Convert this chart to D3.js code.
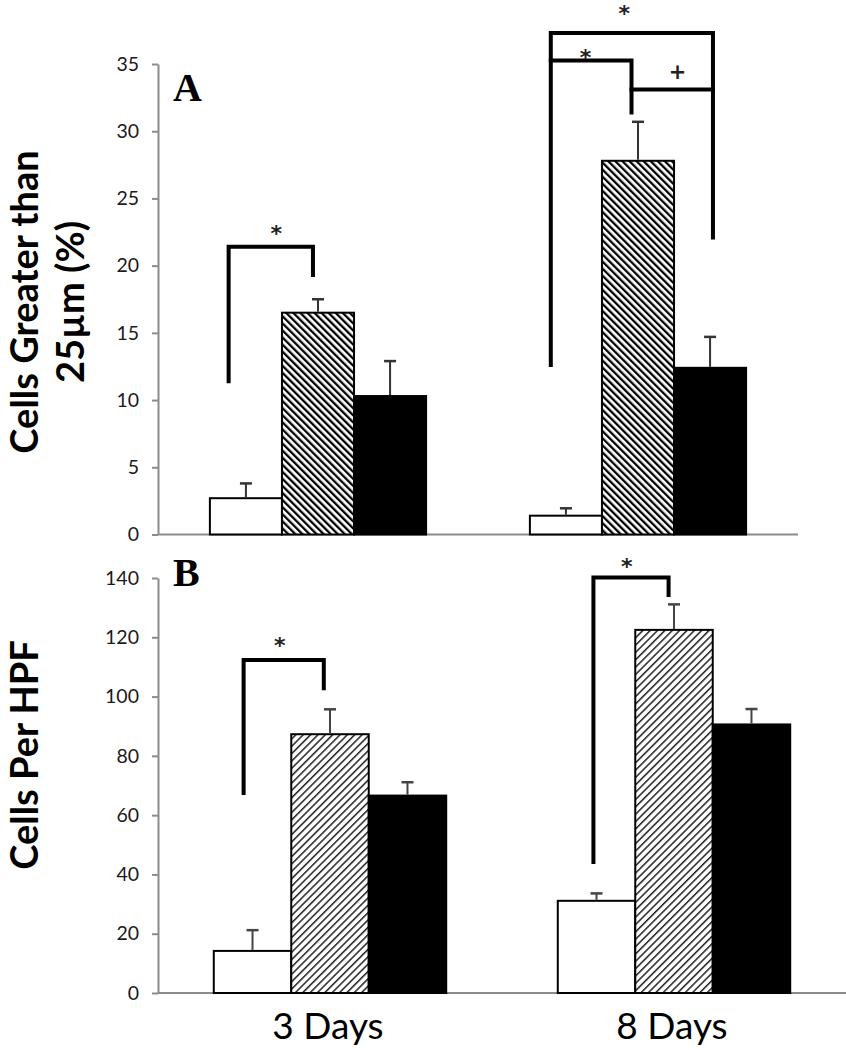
<!DOCTYPE html>
<html>
<head>
<meta charset="utf-8">
<script src="https://cdn.jsdelivr.net/npm/d3@7"></script>
<style>
  html, body { margin: 0; padding: 0; background: #fff; }
  svg { display: block; }
</style>
</head>
<body>
<script>
// ---------- DATA ----------
const categories = ["3 Days", "8 Days"];
const seriesNames = ["Open", "Hatched", "Filled"];

// Panel A: Cells Greater than 25µm (%)
const aOpen    = [2.7, 1.4];
const aHatched = [16.5, 27.8];
const aFilled  = [10.3, 12.4];
const aOpenErr    = [1.1, 0.55];
const aHatchedErr = [1.0, 2.9];
const aFilledErr  = [2.6, 2.3];
const aTicks = [0, 5, 10, 15, 20, 25, 30, 35];

// Panel B: Cells Per HPF
const bOpen    = [14.2, 31.1];
const bHatched = [87.3, 122.5];
const bFilled  = [66.6, 90.6];
const bOpenErr    = [7.0, 2.5];
const bHatchedErr = [8.4, 8.6];
const bFilledErr  = [4.5, 5.2];
const bTicks = [0, 20, 40, 60, 80, 100, 120, 140];

// Significance brackets: points as [category, series, position within bar, value]
const aBrackets = [
  [[0, 0, 0.26, 11.4], [0, 0, 0.26, 21.4], [0, 1, 0.43, 21.4], [0, 1, 0.43, 19.3]],
  [[1, 0, 0.29, 12.6], [1, 0, 0.29, 37.3], [1, 2, 0.54, 37.3], [1, 2, 0.54, 22.1]],
  [[1, 0, 0.29, 35.26], [1, 1, 0.41, 35.26], [1, 1, 0.41, 31.4]],
  [[1, 1, 0.41, 33.1], [1, 2, 0.54, 33.1]]
];
const aMarks = [
  [0, 0, 0.92, 22.8, "*"],
  [1, 1, 0.31, 39.2, "*"],
  [1, 0, 0.77, 35.9, "*"],
  [1, 2, 0.05, 34.5, "+"]
];
const bBrackets = [
  [[0, 0, 0.385, 67.5], [0, 0, 0.385, 112.3], [0, 1, 0.42, 112.3], [0, 1, 0.42, 102.8]],
  [[1, 0, 0.46, 44.2], [1, 0, 0.46, 140.2], [1, 1, 0.43, 140.2], [1, 1, 0.43, 134.3]]
];
const bMarks = [
  [0, 0, 0.85, 119.1, "*"],
  [1, 0, 0.89, 145.9, "*"]
];

// ---------- DRAW ----------
const W = 846, H = 1050;
const svg = d3.select("body").append("svg").attr("width", W).attr("height", H);
const defs = svg.append("defs");

function hatch(id, angle, size, lw, color) {
  const p = defs.append("pattern").attr("id", id)
    .attr("patternUnits", "userSpaceOnUse")
    .attr("width", size).attr("height", size)
    .attr("patternTransform", `rotate(${angle})`);
  p.append("rect").attr("width", size).attr("height", size).attr("fill", "#fff");
  p.append("rect").attr("x", 0).attr("y", 0).attr("width", lw).attr("height", size).attr("fill", color);
}
hatch("hatchA", -45, 5, 2.3, "#000");
hatch("hatchB", 45, 5.2, 1.5, "#222");

const fills = ["#fff", null, "#000"];

function panel(opts) {
  const x0 = d3.scaleBand().domain(categories).range([opts.left, opts.right]).padding(0);
  const x1 = d3.scaleBand().domain(seriesNames).range([0, x0.bandwidth()]).paddingInner(0).paddingOuter(0.72);
  const y = d3.scaleLinear().domain(opts.domain).range([opts.bottom, opts.top]);
  const g = svg.append("g");

  // axis
  const ax = g.append("g").attr("transform", `translate(${opts.left},0)`)
    .call(d3.axisLeft(y).tickValues(opts.ticks).tickSize(6).tickSizeOuter(0).tickPadding(13));
  ax.select(".domain").attr("stroke", "#8c8c8c").attr("stroke-width", 2);
  ax.selectAll(".tick line").attr("stroke", "#8c8c8c").attr("stroke-width", 2);
  ax.selectAll(".tick text").attr("font-family", "Lato, 'Open Sans', sans-serif")
    .attr("font-size", 19.5).attr("fill", "#1a1a1a");
  // baseline
  g.append("line").attr("x1", opts.left).attr("x2", opts.right)
    .attr("y1", y(0)).attr("y2", y(0)).attr("stroke", "#8c8c8c").attr("stroke-width", 2);

  const rows = [];
  categories.forEach((c, ci) => {
    seriesNames.forEach((s, si) => {
      rows.push({ c, s, ci, si, v: opts.values[si][ci], e: opts.errors[si][ci] });
    });
  });
  const bx = d => x0(d.c) + x1(d.s);
  const bw = x1.bandwidth();

  g.selectAll("rect.bar").data(rows).join("rect").attr("class", "bar")
    .attr("x", bx).attr("width", bw)
    .attr("y", d => y(d.v)).attr("height", d => y(0) - y(d.v))
    .attr("fill", d => d.si === 1 ? `url(#${opts.hatch})` : fills[d.si])
    .attr("stroke", "#000").attr("stroke-width", 2);

  // error bars (upper only)
  const eg = g.selectAll("g.err").data(rows).join("g").attr("class", "err");
  eg.append("line")
    .attr("x1", d => bx(d) + bw / 2).attr("x2", d => bx(d) + bw / 2)
    .attr("y1", d => y(d.v) - 1).attr("y2", d => y(d.v + d.e))
    .attr("stroke", opts.errColor).attr("stroke-width", 2);
  eg.append("line")
    .attr("x1", d => bx(d) + bw / 2 - 6).attr("x2", d => bx(d) + bw / 2 + 6)
    .attr("y1", d => y(d.v + d.e)).attr("y2", d => y(d.v + d.e))
    .attr("stroke", opts.errColor).attr("stroke-width", 2.5);

  // brackets
  const px = p => x0(categories[p[0]]) + x1(seriesNames[p[1]]) + p[2] * bw;
  const line = d3.line().x(px).y(p => y(p[3]));
  g.selectAll("path.br").data(opts.brackets).join("path").attr("class", "br")
    .attr("d", line).attr("fill", "none").attr("stroke", "#000")
    .attr("stroke-width", 4).attr("stroke-linejoin", "miter").attr("stroke-linecap", "square");

  g.selectAll("text.mk").data(opts.marks).join("text").attr("class", "mk")
    .attr("x", px).attr("y", p => y(p[3]) + (p[4] === "*" ? 13 : 8))
    .attr("text-anchor", "middle")
    .attr("font-family", "'DejaVu Sans', sans-serif")
    .attr("font-weight", "bold")
    .attr("font-size", p => p[4] === "*" ? 22 : 21)
    .attr("fill", "#222").text(p => p[4]);

  // panel letter
  g.append("text").attr("x", 173).attr("y", opts.letterY)
    .attr("font-family", "'Liberation Serif', 'Times New Roman', serif")
    .attr("font-weight", "bold").attr("font-size", 40).attr("fill", "#000").text(opts.letter);

  // y label
  const yl = g.append("text").attr("text-anchor", "middle")
    .attr("font-family", "Lato, 'Open Sans', sans-serif").attr("font-weight", "bold")
    .attr("font-size", 38).attr("fill", "#000")
    .attr("transform", `translate(0,${opts.labelY}) rotate(-90)`);
  opts.label.forEach((t, i) => {
    yl.append("tspan").attr("x", 0).attr("y", 38 + i * 46).text(t);
  });
  return { x0 };
}

const pA = panel({
  left: 158, right: 798, top: 64, bottom: 534.5, domain: [0, 35], ticks: aTicks,
  values: [aOpen, aHatched, aFilled], errors: [aOpenErr, aHatchedErr, aFilledErr],
  hatch: "hatchA", errColor: "#333", brackets: aBrackets, marks: aMarks,
  letter: "A", letterY: 101, label: ["Cells Greater than", "25µm (%)"], labelY: 302
});
const pB = panel({
  left: 158, right: 846, top: 578, bottom: 993, domain: [0, 140], ticks: bTicks,
  values: [bOpen, bHatched, bFilled], errors: [bOpenErr, bHatchedErr, bFilledErr],
  hatch: "hatchB", errColor: "#444", brackets: bBrackets, marks: bMarks,
  letter: "B", letterY: 586, label: ["Cells Per HPF"], labelY: 755
});

// category labels
svg.selectAll("text.cat").data(categories).join("text").attr("class", "cat")
  .attr("x", d => pB.x0(d) + pB.x0.bandwidth() / 2 - 2).attr("y", 1039)
  .attr("text-anchor", "middle")
  .attr("font-family", "Lato, 'Open Sans', sans-serif")
  .attr("font-size", 37).attr("fill", "#000").text(d => d);
</script>
</body>
</html>
